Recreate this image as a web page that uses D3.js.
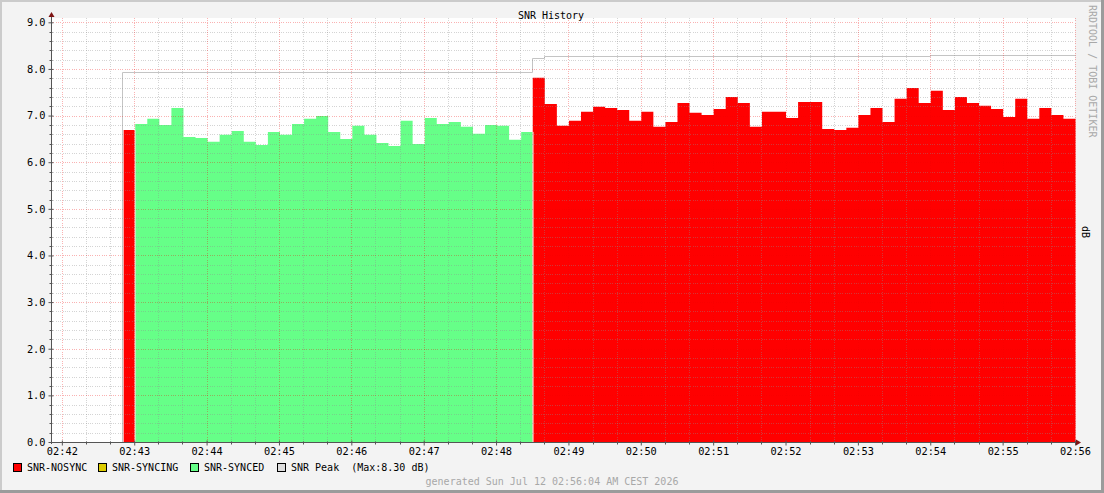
<!DOCTYPE html>
<html>
<head>
<meta charset="utf-8">
<script src="https://cdn.jsdelivr.net/npm/d3@7"></script>
<style>
  body { margin: 0; background: #f3f3f3; }
  svg text { font-family: "DejaVu Sans Mono", monospace; font-size: 10px; }
</style>
</head>
<body>
<div id="chart"></div>
<script>
// data (10 second steps)
const stepSeconds = 10;
const nosyncFirstStart = "02:42:50";
const nosyncFirstValues = [6.69];
const syncedStart = "02:43:00";
const syncedValues = [6.82, 6.93, 6.80, 7.16, 6.54, 6.52, 6.44, 6.59, 6.67, 6.44, 6.37,
  6.65, 6.59, 6.82, 6.93, 6.99, 6.65, 6.50, 6.78, 6.59, 6.41, 6.35, 6.89, 6.39, 6.95,
  6.82, 6.86, 6.76, 6.61, 6.80, 6.78, 6.48, 6.65];
const nosyncStart = "02:48:30";
const nosyncValues = [7.81, 7.25, 6.78, 6.89, 7.08, 7.19, 7.16, 7.12, 6.89, 7.08, 6.76,
  6.86, 7.27, 7.06, 7.01, 7.14, 7.40, 7.27, 6.76, 7.08, 7.08, 6.95, 7.29, 7.29, 6.71,
  6.69, 6.74, 7.01, 7.16, 6.86, 7.36, 7.59, 7.27, 7.53, 7.12, 7.40, 7.27, 7.21, 7.14,
  6.97, 7.36, 6.93, 7.16, 7.01, 6.93];
const peakTimes = ["02:42:50", "02:48:30", "02:48:40", "02:54:00", "02:56:00"];
const peakValues = [7.94, 8.23, 8.27, 8.30];
const timeTicks = ["02:42", "02:43", "02:44", "02:45", "02:46", "02:47", "02:48",
  "02:49", "02:50", "02:51", "02:52", "02:53", "02:54", "02:55", "02:56"];
const yTicks = [0, 1, 2, 3, 4, 5, 6, 7, 8, 9];
const legendNames = ["SNR-NOSYNC", "SNR-SYNCING", "SNR-SYNCED", "SNR Peak  (Max:8.30 dB)"];
const legendColors = ["#ff0000", "#ddcc00", "#66ff88", "#dddddd"];

const W = 1104, H = 493;
const plot = { left: 51, right: 1075, top: 18, bottom: 442 };

const parseHMS = d3.timeParse("%H:%M:%S");
const parseHM = d3.timeParse("%H:%M");

const svg = d3.select("#chart").append("svg")
    .attr("width", W)
    .attr("height", H);

// background + 3d frame
svg.append("rect").attr("width", W).attr("height", H).attr("fill", "#f3f3f3");
svg.append("rect").attr("x", 0).attr("y", 0).attr("width", W).attr("height", 2).attr("fill", "#cbcbcb");
svg.append("rect").attr("x", 0).attr("y", 0).attr("width", 2).attr("height", H).attr("fill", "#cbcbcb");
svg.append("rect").attr("x", W - 3).attr("y", 0).attr("width", 3).attr("height", H).attr("fill", "#9b9b9b");
svg.append("rect").attr("x", 0).attr("y", H - 3).attr("width", W).attr("height", 3).attr("fill", "#9b9b9b");

// scales
const xScale = d3.scaleTime()
    .domain([parseHMS("02:41:51"), parseHMS("02:56:00")])
    .range([plot.left, plot.right]);
const yScale = d3.scaleLinear()
    .domain([0, 9])
    .range([plot.bottom, 22.3]);

svg.append("rect")
    .attr("x", plot.left).attr("y", plot.top)
    .attr("width", plot.right - plot.left).attr("height", plot.bottom - plot.top)
    .attr("fill", "#ffffff");

// turn a run of samples into step points
function toSteps(start, values) {
  const t0 = parseHMS(start);
  const pts = values.map((v, i) => ({ t: d3.timeSecond.offset(t0, i * stepSeconds), v }));
  pts.push({ t: d3.timeSecond.offset(t0, values.length * stepSeconds), v: values[values.length - 1] });
  return pts;
}

const area = d3.area()
    .x(d => xScale(d.t))
    .y0(yScale(0))
    .y1(d => yScale(d.v))
    .curve(d3.curveStepAfter);

const runs = [
  { pts: toSteps(nosyncFirstStart, nosyncFirstValues), color: legendColors[0], shift: 1.5 },
  { pts: toSteps(syncedStart, syncedValues), color: legendColors[2], shift: 1 },
  { pts: toSteps(nosyncStart, nosyncValues), color: legendColors[0], shift: 0.5 }
];

svg.selectAll("path.snr")
    .data(runs)
    .enter()
    .append("path")
    .attr("class", "snr")
    .attr("transform", d => `translate(${d.shift},0)`)
    .attr("d", d => area(d.pts))
    .attr("fill", d => d.color);

// small white gap where the state changes
svg.selectAll("line.gap")
    .data([syncedStart, nosyncStart])
    .enter()
    .append("line")
    .attr("x1", d => Math.round(xScale(parseHMS(d))) + 1)
    .attr("x2", d => Math.round(xScale(parseHMS(d))) + 1)
    .attr("y1", d => yScale(0))
    .attr("y2", (d, i) => yScale(i === 0 ? nosyncFirstValues[0] : syncedValues[syncedValues.length - 1]))
    .attr("stroke", "#ffffff")
    .attr("stroke-width", 1);

// peak line
const peakPts = [{ t: parseHMS(peakTimes[0]), v: 0 }];
peakValues.forEach((v, i) => {
  peakPts.push({ t: parseHMS(peakTimes[i]), v });
  peakPts.push({ t: parseHMS(peakTimes[i + 1]), v });
});
svg.append("path")
    .attr("d", d3.line().x(d => Math.round(xScale(d.t)) + 0.5).y(d => Math.round(yScale(d.v)) + 0.5)(peakPts))
    .attr("fill", "none")
    .attr("stroke", "#c4c4c4")
    .attr("stroke-width", 1);

// grid (drawn over the areas, like rrdtool)
const grid = svg.append("g").attr("shape-rendering", "crispEdges");
const minorX = d3.timeSecond.every(20).range(parseHMS("02:41:51"), parseHMS("02:56:01"))
    .filter(d => d.getSeconds() !== 0);
const minorY = d3.range(0.2, 9.01, 0.2).filter(v => Math.abs(v - Math.round(v)) > 0.01);

grid.selectAll("line.mx").data(minorX).enter().append("line")
    .attr("x1", d => Math.round(xScale(d)) + 0.5).attr("x2", d => Math.round(xScale(d)) + 0.5)
    .attr("y1", plot.top).attr("y2", plot.bottom)
    .attr("stroke", "#8f8f8f").attr("stroke-opacity", 0.38).attr("stroke-dasharray", "1,1.3");
grid.selectAll("line.my").data(minorY).enter().append("line")
    .attr("x1", plot.left).attr("x2", plot.right)
    .attr("y1", d => Math.round(yScale(d)) + 0.5).attr("y2", d => Math.round(yScale(d)) + 0.5)
    .attr("stroke", "#8f8f8f").attr("stroke-opacity", 0.38).attr("stroke-dasharray", "1,1.3");
grid.selectAll("line.Mx").data(timeTicks.map(parseHM)).enter().append("line")
    .attr("x1", d => Math.round(xScale(d)) + 0.5).attr("x2", d => Math.round(xScale(d)) + 0.5)
    .attr("y1", plot.top).attr("y2", plot.bottom)
    .attr("stroke", "#f00000").attr("stroke-opacity", 0.3).attr("stroke-dasharray", "1,1.3");
grid.selectAll("line.My").data(yTicks.slice(1)).enter().append("line")
    .attr("x1", plot.left).attr("x2", plot.right)
    .attr("y1", d => Math.round(yScale(d)) + 0.5).attr("y2", d => Math.round(yScale(d)) + 0.5)
    .attr("stroke", "#f00000").attr("stroke-opacity", 0.3).attr("stroke-dasharray", "1,1.3");

// axes
const xAxis = svg.append("g")
    .attr("transform", `translate(0,${plot.bottom + 0.5})`)
    .call(d3.axisBottom(xScale)
        .tickValues(timeTicks.map(parseHM))
        .tickFormat(d3.timeFormat("%H:%M"))
        .tickSize(3)
        .tickSizeOuter(0));
xAxis.select(".domain").remove();
xAxis.selectAll(".tick line").attr("stroke", "#555").attr("y1", -2);
xAxis.selectAll(".tick text").attr("y", 5).attr("dy", "0.71em").attr("fill", "#000")
    .style("font-size", "10.3px");
xAxis.selectAll("line.minor").data(minorX).enter().append("line")
    .attr("x1", d => Math.round(xScale(d)) + 0.5).attr("x2", d => Math.round(xScale(d)) + 0.5)
    .attr("y1", -1).attr("y2", 2).attr("stroke", "#555");

const yAxis = svg.append("g")
    .attr("transform", `translate(${plot.left + 0.5},0)`)
    .call(d3.axisLeft(yScale)
        .tickValues(yTicks)
        .tickFormat(d3.format(".1f"))
        .tickSize(3)
        .tickSizeOuter(0));
yAxis.select(".domain").remove();
yAxis.selectAll(".tick line").attr("stroke", "#555").attr("x1", 2);
yAxis.selectAll(".tick text").attr("x", -6).attr("fill", "#000").style("font-size", "10.3px");
yAxis.selectAll("line.minor").data(minorY).enter().append("line")
    .attr("y1", d => Math.round(yScale(d)) + 0.5).attr("y2", d => Math.round(yScale(d)) + 0.5)
    .attr("x1", -2).attr("x2", 1).attr("stroke", "#555");

// axis lines + arrows
svg.append("line")
    .attr("x1", plot.left - 2).attr("x2", plot.right + 3)
    .attr("y1", plot.bottom + 0.5).attr("y2", plot.bottom + 0.5)
    .attr("stroke", "#555");
svg.append("line")
    .attr("x1", plot.left + 0.5).attr("x2", plot.left + 0.5)
    .attr("y1", plot.bottom + 2).attr("y2", plot.top - 2)
    .attr("stroke", "#555");
svg.append("path")
    .attr("d", `M${plot.right + 1},${plot.bottom - 2.5} L${plot.right + 6},${plot.bottom + 0.5} L${plot.right + 1},${plot.bottom + 3.5} Z`)
    .attr("fill", "#7f1414");
svg.append("path")
    .attr("d", `M${plot.left - 2.5},${plot.top - 1} L${plot.left + 0.5},${plot.top - 6} L${plot.left + 3.5},${plot.top - 1} Z`)
    .attr("fill", "#7f1414");

// title and side labels
svg.append("text")
    .attr("x", 551).attr("y", 19)
    .attr("text-anchor", "middle")
    .attr("fill", "#000")
    .text("SNR History");

svg.append("text")
    .attr("transform", "translate(1089,5) rotate(90)")
    .attr("fill", "#a8a8a8")
    .text("RRDTOOL / TOBI OETIKER");

svg.append("text")
    .attr("transform", "translate(1082,232) rotate(90)")
    .attr("text-anchor", "middle")
    .attr("fill", "#000")
    .text("dB");

// legend
const legendX = [13, 98, 190, 277];
const legend = svg.selectAll(".legend")
    .data(legendNames)
    .enter()
    .append("g")
    .attr("class", "legend")
    .attr("transform", (d, i) => `translate(${legendX[i]},463)`);

legend.append("rect")
    .attr("x", 0.5).attr("y", 0.5)
    .attr("width", 8).attr("height", 8)
    .attr("fill", (d, i) => legendColors[i])
    .attr("stroke", "#000");

legend.append("text")
    .attr("x", 14)
    .attr("y", 8)
    .attr("fill", "#000")
    .attr("xml:space", "preserve")
    .style("white-space", "pre")
    .text(d => d);

// footer
svg.append("text")
    .attr("x", 552).attr("y", 485)
    .attr("text-anchor", "middle")
    .attr("fill", "#a8a8a8")
    .text("generated Sun Jul 12 02:56:04 AM CEST 2026");
</script>
</body>
</html>
